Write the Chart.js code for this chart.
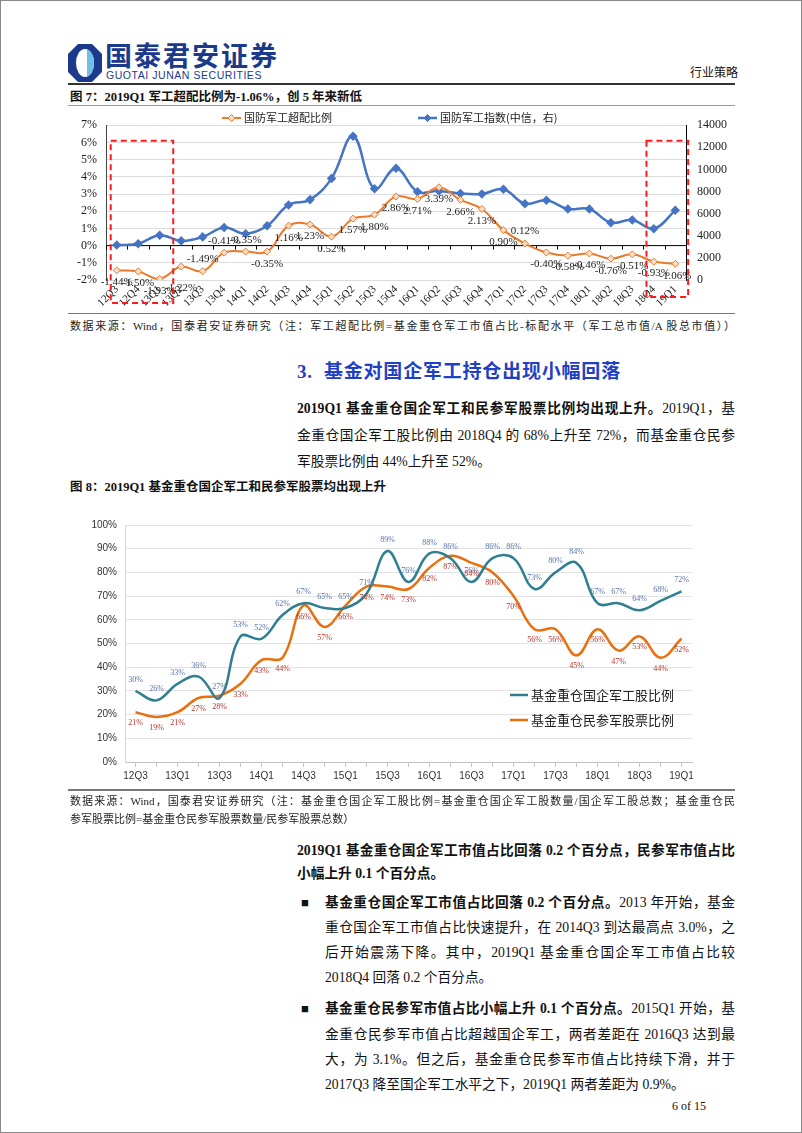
<!DOCTYPE html>
<html lang="zh-CN">
<head>
<meta charset="utf-8">
<title>行业策略 6 of 15</title>
<script src="https://cdn.jsdelivr.net/npm/chart.js@4.4.1/dist/chart.umd.min.js"></script>
<style>
  html, body { margin: 0; padding: 0; background: #fff; }
  body { width: 802px; height: 1133px; position: relative; overflow: hidden;
         font-family: 'Liberation Serif', 'Noto Sans CJK SC', serif; color: #111; }
  .frame { position: absolute; left: 0; top: 0; width: 802px; height: 1133px; box-sizing: border-box; border: 1px solid #8a8a8a; }
  .abs { position: absolute; white-space: nowrap; }
  .rule { position: absolute; left: 68px; width: 667px; background: #555; }
  .ln { position: absolute; height: 20px; line-height: 20px; text-align: justify; text-align-last: justify; }
  .ln.end { text-align: left; text-align-last: left; white-space: nowrap; }
  .fig { font-size: 12.5px; font-weight: bold; }
  .src { font-size: 11px; color: #222; }
  .body { font-size: 13.7px; }
  .chartbox { position: absolute; }
</style>
</head>
<body>
<div class="frame"></div>

<!-- header -->
<svg class="abs" style="left:68px;top:44px" width="34" height="38" viewBox="0 0 34 38">
  <polygon points="10,0 24,0 34,10 34,28 24,38 10,38 0,28 0,10" fill="#1b3a8c"/>
  <ellipse cx="17" cy="19" rx="9" ry="14" fill="#fff"/>
  <path d="M19 5.5 C 24 7 26 13 26 19 C 26 25 24 31 19 32.5 Z" fill="#6ec0e6"/>
</svg>
<div class="abs" style="left:105px;top:40px;height:30px;line-height:30px;font-family:'Noto Sans CJK SC';font-weight:bold;font-size:27px;letter-spacing:2px;color:#1b3a8c">国泰君安证券</div>
<div class="abs" style="left:106px;top:70px;line-height:11px;font-family:'Liberation Sans';font-size:10.5px;letter-spacing:0.55px;color:#1b3a8c">GUOTAI JUNAN SECURITIES</div>
<div class="abs" style="left:690px;top:64px;line-height:16px;font-size:12px;font-family:'Noto Sans CJK SC'">行业策略</div>
<div class="rule" style="top:83px;height:2px;background:#333"></div>

<!-- figure 7 -->
<div class="ln end fig" style="left:70px;top:87px">图 7：2019Q1 军工超配比例为-1.06%，创 5 年来新低</div>
<div class="rule" style="top:105px;height:1px;background:#9a9a9a"></div>
<div class="chartbox" style="left:60px;top:107px;width:690px;height:205px"><canvas id="chart-excess"></canvas></div>
<div class="rule" style="top:313px;height:1px;background:#777"></div>
<div class="ln src" style="left:70px;top:316px;width:665px">数据来源：Wind，国泰君安证券研究（注：军工超配比例=基金重仓军工市值占比-标配水平（军工总市值/A 股总市值））</div>

<!-- section -->
<div class="abs" style="left:297px;top:356px;font-size:19px;font-weight:bold;color:#1f3fc4;letter-spacing:0.8px">3.&nbsp; 基金对国企军工持仓出现小幅回落</div>

<div class="ln body" style="left:297px;top:399px;width:438px"><b>2019Q1 基金重仓国企军工和民参军股票比例均出现上升。</b>2019Q1，基</div>
<div class="ln body" style="left:297px;top:426px;width:438px">金重仓国企军工股比例由 2018Q4 的 68%上升至 72%，而基金重仓民参</div>
<div class="ln body end" style="left:297px;top:452px">军股票比例由 44%上升至 52%。</div>

<!-- figure 8 -->
<div class="ln end fig" style="left:70px;top:477px">图 8：2019Q1 基金重仓国企军工和民参军股票均出现上升</div>
<div class="chartbox" style="left:60px;top:505px;width:690px;height:285px"><canvas id="chart-funds"></canvas></div>
<div class="rule" style="top:789px;height:1.5px;background:#777"></div>
<div class="ln src" style="left:70px;top:791px;width:665px">数据来源：Wind，国泰君安证券研究（注：基金重仓国企军工股比例=基金重仓国企军工股数量/国企军工股总数；基金重仓民</div>
<div class="ln src end" style="left:70px;top:809px">参军股票比例=基金重仓民参军股票数量/民参军股票总数）</div>

<div class="ln body" style="left:297px;top:841px;width:438px;font-weight:bold">2019Q1 基金重仓国企军工市值占比回落 0.2 个百分点，民参军市值占比</div>
<div class="ln body end" style="left:297px;top:864px;font-weight:bold">小幅上升 0.1 个百分点。</div>

<div class="abs" style="left:301px;top:893px;font-size:13px;line-height:20px">■</div>
<div class="ln body" style="left:325px;top:893px;width:410px"><b>基金重仓国企军工市值占比回落 0.2 个百分点。</b>2013 年开始，基金</div>
<div class="ln body" style="left:325px;top:918px;width:410px">重仓国企军工市值占比快速提升，在 2014Q3 到达最高点 3.0%，之</div>
<div class="ln body" style="left:325px;top:943px;width:410px">后开始震荡下降。其中，2019Q1 基金重仓国企军工市值占比较</div>
<div class="ln body end" style="left:325px;top:968px">2018Q4 回落 0.2 个百分点。</div>

<div class="abs" style="left:301px;top:999px;font-size:13px;line-height:20px">■</div>
<div class="ln body" style="left:325px;top:999px;width:410px"><b>基金重仓民参军市值占比小幅上升 0.1 个百分点。</b>2015Q1 开始，基</div>
<div class="ln body" style="left:325px;top:1025px;width:410px">金重仓民参军市值占比超越国企军工，两者差距在 2016Q3 达到最</div>
<div class="ln body" style="left:325px;top:1050px;width:410px">大，为 3.1%。但之后，基金重仓民参军市值占比持续下滑，并于</div>
<div class="ln body end" style="left:325px;top:1075px">2017Q3 降至国企军工水平之下，2019Q1 两者差距为 0.9%。</div>

<div class="abs" style="left:672px;top:1099px;font-size:12px">6 of 15</div>

<script>
// quarters shared by both figures
var quarters = ["12Q3","12Q4","13Q1","13Q2","13Q3","13Q4","14Q1","14Q2","14Q3","14Q4",
  "15Q1","15Q2","15Q3","15Q4","16Q1","16Q2","16Q3","16Q4","17Q1","17Q2","17Q3","17Q4",
  "18Q1","18Q2","18Q3","18Q4","19Q1"];

// figure 7: overweight ratio (%) and CITIC defence index (right axis)
var excessRatio = [-1.44,-1.50,-1.93,-1.22,-1.49,-0.41,-0.35,-0.35,1.16,1.23,
  0.52,1.57,1.80,2.86,2.71,3.39,2.66,2.13,0.90,0.12,-0.40,-0.58,
  -0.46,-0.76,-0.51,-0.93,-1.06];
var defenceIndex = [3160,3280,4050,3540,3900,4750,4180,4900,6790,7270,
  9190,13000,8260,10100,7980,8060,7830,7780,8200,6900,7210,6420,
  6420,5180,5430,4640,6300];
var excessLabelsAbove = [4,5,6,19];

// figure 8: share of stocks held by funds (%)
var soeShare = [30,26,33,36,27,53,52,62,67,65,65,71,89,76,88,86,76,86,86,73,80,84,67,67,64,68,72];
var privateShare = [21,19,21,27,28,33,43,44,66,57,66,74,74,73,82,87,84,80,70,56,56,45,56,47,53,44,52];

var SERIF = "'Liberation Serif', 'Noto Sans CJK SC', serif";
var SANS = "'Liberation Sans', Arial, sans-serif";

var valueLabels = {
  id: "valueLabels",
  afterDatasetsDraw: function(chart){
    var ctx = chart.ctx;
    chart.data.datasets.forEach(function(ds, di){
      var lab = ds.valueLabel;
      if (!lab) return;
      var meta = chart.getDatasetMeta(di);
      ctx.save();
      ctx.font = lab.font;
      ctx.fillStyle = lab.color;
      ctx.textAlign = "center";
      ctx.textBaseline = "middle";
      meta.data.forEach(function(pt, i){
        var dy = lab.dy;
        if (lab.above && lab.above.indexOf(i) >= 0) dy = -lab.dy;
        if (lab.far && lab.far[i]) dy = lab.far[i];
        ctx.fillText(lab.format(ds.data[i]), pt.x, pt.y + dy);
      });
      ctx.restore();
    });
  }
};

var lineLegend = {
  id: "lineLegend",
  afterDraw: function(chart, args, opts){
    if (!opts.items) return;
    var ctx = chart.ctx;
    ctx.save();
    opts.items.forEach(function(it){
      ctx.strokeStyle = it.color;
      ctx.lineWidth = it.width;
      ctx.beginPath();
      ctx.moveTo(it.x, it.y);
      ctx.lineTo(it.x + it.len, it.y);
      ctx.stroke();
      if (it.marker){
        var cx = it.x + it.len / 2, r = 3.5;
        ctx.beginPath();
        ctx.moveTo(cx, it.y - r); ctx.lineTo(cx + r, it.y); ctx.lineTo(cx, it.y + r); ctx.lineTo(cx - r, it.y); ctx.closePath();
        ctx.fillStyle = it.marker; ctx.fill();
        ctx.lineWidth = 1; ctx.stroke();
      }
      ctx.fillStyle = "#222";
      ctx.font = opts.font;
      ctx.textAlign = "left";
      ctx.textBaseline = "middle";
      ctx.fillText(it.text, it.x + it.len + 3, it.y);
    });
    ctx.restore();
  }
};

// zero axis with tick marks and the red dashed highlight boxes of figure 7
var excessDecor = {
  id: "excessDecor",
  beforeDatasetsDraw: function(chart){
    var ctx = chart.ctx, xs = chart.scales.x, ys = chart.scales.y, a = chart.chartArea;
    var y0 = ys.getPixelForValue(0);
    var step = xs.getPixelForValue(1) - xs.getPixelForValue(0);
    ctx.save();
    ctx.strokeStyle = "#000";
    ctx.lineWidth = 1;
    ctx.beginPath();
    ctx.moveTo(a.left, y0); ctx.lineTo(a.right, y0);
    for (var i = 0; i <= quarters.length; i++){
      var x = Math.round(xs.getPixelForValue(0) - step / 2 + i * step) + 0.5;
      ctx.moveTo(x, y0); ctx.lineTo(x, y0 + 4);
    }
    ctx.stroke();
    ctx.restore();
  },
  afterDraw: function(chart){
    var ctx = chart.ctx, xs = chart.scales.x, ys = chart.scales.y, a = chart.chartArea;
    var step = xs.getPixelForValue(1) - xs.getPixelForValue(0);
    var top = ys.getPixelForValue(6.1);
    ctx.save();
    ctx.strokeStyle = "#ff1a1a";
    ctx.lineWidth = 2;
    ctx.setLineDash([6, 4]);
    var l1 = xs.getPixelForValue(0) - 0.28 * step, r1 = xs.getPixelForValue(3) - 0.37 * step;
    ctx.strokeRect(l1, top, r1 - l1, a.bottom + 23 - top);
    var l2 = xs.getPixelForValue(25) - 0.34 * step, r2 = xs.getPixelForValue(26) + 0.6 * step;
    ctx.strokeRect(l2, top, r2 - l2, a.bottom + 17 - top);
    ctx.restore();
  }
};

new Chart(document.getElementById("chart-excess"), {
  type: "line",
  data: {
    labels: quarters,
    datasets: [{
      label: "国防军工超配比例",
      data: excessRatio,
      yAxisID: "y",
      borderColor: "#ea7a2a",
      borderWidth: 2,
      pointStyle: "rectRot",
      pointRadius: 3.5,
      pointBackgroundColor: "#fbdcc4",
      pointBorderColor: "#ea7a2a",
      pointBorderWidth: 1,
      tension: 0.4,
      valueLabel: {
        font: "11px " + SERIF, color: "#222", dy: 12,
        above: excessLabelsAbove, far: {3: 22},
        format: function(v){ return v.toFixed(2) + "%"; }
      }
    }, {
      label: "国防军工指数(中信，右)",
      data: defenceIndex,
      yAxisID: "y1",
      borderColor: "#4674c4",
      borderWidth: 2.5,
      pointStyle: "rectRot",
      pointRadius: 3,
      pointBackgroundColor: "#4674c4",
      pointBorderColor: "#4674c4",
      tension: 0.4
    }]
  },
  options: {
    responsive: true, maintainAspectRatio: false, animation: false,
    layout: { padding: { top: 8, right: 0, bottom: 0, left: 0 } },
    plugins: {
      legend: { display: false }, tooltip: { enabled: false },
      lineLegend: {
        font: "11px 'Noto Sans CJK SC'",
        items: [
          { x: 162, y: 11, len: 19, width: 2, color: "#ea7a2a", marker: "#fbdcc4", text: "国防军工超配比例" },
          { x: 358, y: 11, len: 19, width: 2.5, color: "#4674c4", marker: "#4674c4", text: "国防军工指数(中信，右)" }
        ]
      }
    },
    scales: {
      x: {
        offset: true,
        grid: { display: false, drawTicks: false },
        border: { display: false },
        ticks: { autoSkip: false, minRotation: 45, maxRotation: 45, padding: 3, color: "#222", font: { family: SERIF, size: 11 } },
        afterFit: function(s){ s.height = 32; }
      },
      y: {
        position: "left", min: -2, max: 7,
        ticks: { stepSize: 1, autoSkip: false, padding: 9, color: "#222", font: { family: SERIF, size: 12 }, callback: function(v){ return v + "%"; } },
        grid: { color: "#dcdcdc", drawTicks: false },
        border: { color: "#444" },
        afterFit: function(s){ s.width = 46; }
      },
      y1: {
        position: "right", min: 0, max: 14000,
        ticks: { stepSize: 2000, autoSkip: false, padding: 11, color: "#222", font: { family: SERIF, size: 12 }, callback: function(v){ return String(v); } },
        grid: { display: false, drawTicks: false },
        border: { color: "#000" },
        afterFit: function(s){ s.width = 64; }
      }
    }
  },
  plugins: [excessDecor, valueLabels, lineLegend]
});

new Chart(document.getElementById("chart-funds"), {
  type: "line",
  data: {
    labels: quarters,
    datasets: [{
      label: "基金重仓国企军工股比例",
      data: soeShare,
      borderColor: "#2f7f91",
      borderWidth: 2.5,
      pointRadius: 0,
      tension: 0.4,
      valueLabel: { font: "8px " + SERIF, color: "#5573ad", dy: -11, format: function(v){ return v + "%"; } }
    }, {
      label: "基金重仓民参军股票比例",
      data: privateShare,
      borderColor: "#e8700f",
      borderWidth: 2.5,
      pointRadius: 0,
      tension: 0.4,
      valueLabel: { font: "8px " + SERIF, color: "#b8322a", dy: 11, format: function(v){ return v + "%"; } }
    }]
  },
  options: {
    responsive: true, maintainAspectRatio: false, animation: false,
    layout: { padding: { top: 20, right: 58, bottom: 0, left: 0 } },
    plugins: {
      legend: { display: false }, tooltip: { enabled: false },
      lineLegend: {
        font: "13px 'Noto Sans CJK SC'",
        items: [
          { x: 450, y: 190, len: 18, width: 2.5, color: "#2f7f91", text: "基金重仓国企军工股比例" },
          { x: 450, y: 215, len: 18, width: 2.5, color: "#e8700f", text: "基金重仓民参军股票比例" }
        ]
      }
    },
    scales: {
      x: {
        offset: true,
        grid: { drawOnChartArea: false, tickLength: 5, color: "#c4c4c4" },
        border: { color: "#c4c4c4" },
        ticks: { autoSkip: false, maxRotation: 0, padding: 3, color: "#333", font: { family: SANS, size: 10 },
          callback: function(v, i){ return i % 2 === 0 ? quarters[i] : ""; } },
        afterFit: function(s){ s.height = 28; }
      },
      y: {
        min: 0, max: 100,
        ticks: { stepSize: 10, autoSkip: false, padding: 8, color: "#333", font: { family: SANS, size: 10 }, callback: function(v){ return v + "%"; } },
        grid: { color: "#e3e3e3", drawTicks: false },
        border: { color: "#d6d6d6" },
        afterFit: function(s){ s.width = 65; }
      }
    }
  },
  plugins: [valueLabels, lineLegend]
});
</script>
</body>
</html>
